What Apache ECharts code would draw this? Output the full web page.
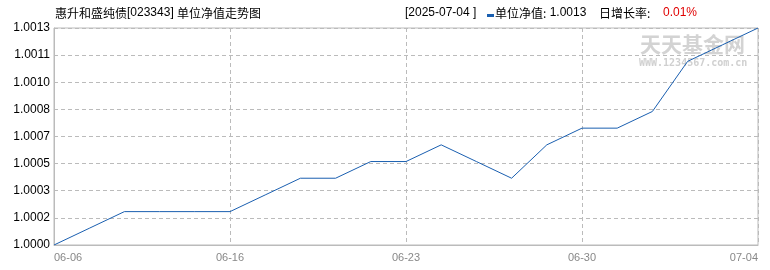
<!DOCTYPE html>
<html><head><meta charset="utf-8">
<script src="https://cdn.jsdelivr.net/npm/echarts@6/dist/echarts.min.js"></script>
<style>html,body{margin:0;padding:0;background:#fff}#c{width:770px;height:270px}</style>
</head><body><div id="c"></div>
<script>
const dates = ['06-06','06-09','06-10','06-11','06-12','06-13','06-16','06-17','06-18','06-19','06-20','06-23','06-24','06-25','06-26','06-27','06-30','07-01','07-02','07-03','07-04'];
const tickLabels = ['06-06','06-16','06-23','06-30','07-04'];
const nav = [1.0000,1.0001,1.0002,1.0002,1.0002,1.0002,1.0003,1.0004,1.0004,1.0005,1.0005,1.0006,1.0005,1.0004,1.0006,1.0007,1.0007,1.0008,1.0011,1.0012,1.0013];
const yMin = 1.0000, yMax = 1.0013, ySplits = 8;

const CJK = '12px "Noto Sans CJK SC", sans-serif';
const LAT = '12px "Liberation Sans", Arial, sans-serif';
const rich = {
  c:{font:CJK,fill:'#000'},
  d:{font:LAT,fill:'#000'},
  r:{font:LAT,fill:'#e00000'}
};
const chart = echarts.init(document.getElementById('c'));
chart.setOption({
  animation:false,
  grid:{left:54,right:12,top:28,bottom:25,show:true,borderColor:'#bbb',borderWidth:1},
  graphic:[
    {type:'text',left:55,top:7,style:{text:'{c|惠升和盛纯债}{d|[023343]} {c|单位净值走势图}',rich:rich}},
    {type:'text',left:405,top:7,style:{text:'{d|[2025-07-04 ]}',rich:rich}},
    {type:'rect',shape:{x:487,y:14,width:7,height:3},style:{fill:'#1a5fb0'}},
    {type:'text',left:495,top:7,style:{text:'{c|单位净值:} {d|1.0013}',rich:rich}},
    {type:'text',left:599,top:7,style:{text:'{c|日增长率:}',rich:rich}},
    {type:'text',left:663,top:7,style:{text:'{r|0.01%}',rich:rich}},
    {type:'text',left:640,top:34,z:0,style:{text:'天天基金网',font:'bold 21px "Noto Sans CJK SC", sans-serif',fill:'#d3d3d3'}},
    {type:'text',left:639,top:58,z:0,style:{text:'WWW.1234567.com.cn',font:'bold 10px "DejaVu Sans Mono", monospace',fill:'#d0d0d0'}}
  ],
  xAxis:{type:'category',data:dates,boundaryGap:false,
    axisLine:{lineStyle:{color:'#bbb'}},axisTick:{show:false},
    axisLabel:{interval:4,color:'#888',fontSize:11,fontFamily:'"Liberation Sans", Arial, sans-serif',margin:7,
      alignMinLabel:'left',alignMaxLabel:'right',
      formatter:(v,i)=>tickLabels[Math.round(i/5)]},
    splitLine:{show:true,interval:4,lineStyle:{color:'#bbb',type:[4,3]}}},
  yAxis:{type:'value',min:yMin,max:yMax,interval:(yMax-yMin)/ySplits,
    axisLine:{show:true,lineStyle:{color:'#bbb'}},axisTick:{show:false},
    axisLabel:{color:'#000',fontSize:12,fontFamily:'"Liberation Sans", Arial, sans-serif',margin:4,formatter:v=>v.toFixed(4)},
    splitLine:{lineStyle:{color:'#bbb',type:[4,3]}}},
  series:[{type:'line',name:'单位净值',data:nav,symbol:'none',lineStyle:{color:'#1a5fb0',width:1},z:3}]
});
</script></body></html>
